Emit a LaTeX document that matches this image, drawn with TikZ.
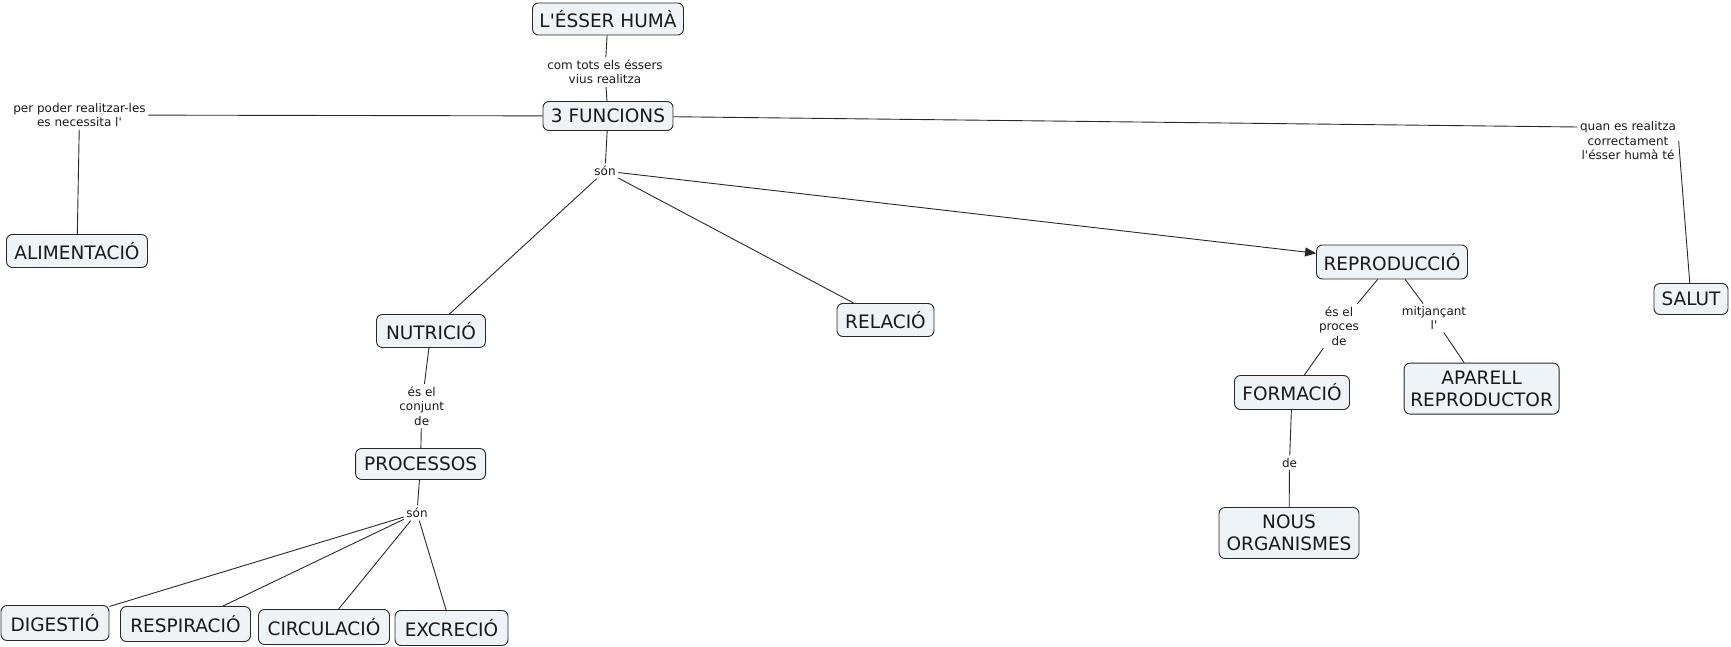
\documentclass[tikz,border=0pt]{standalone}
\usepackage{fontspec}
\setmainfont{DejaVu Sans}[Ligatures=TeXOff]
\usetikzlibrary{arrows.meta}
\definecolor{cfill}{RGB}{237,243,246}
\definecolor{cline}{RGB}{40,40,40}
\definecolor{ctext}{RGB}{25,25,25}
\begin{document}
\begin{tikzpicture}[x=1pt,y=-1pt,
  concept/.style={draw=cline, line width=0.9pt, fill=cfill, rounded corners=6pt, inner sep=0pt, align=center, font=\fontsize{18.5}{22}\selectfont, text=ctext},
  lab/.style={inner sep=2.5pt, align=center, font=\fontsize{12}{14.5}\selectfont, text=ctext},
  conn/.style={draw=cline, line width=0.9pt},
  arr/.style={conn, -{Triangle[length=11pt,width=9pt]}}]
\useasboundingbox (0,0) rectangle (1731,647);
% concepts
\node[concept, minimum width=151pt, minimum height=32pt] (human) at (608,19) {L'ÉSSER HUMÀ};
\node[concept, minimum width=130pt, minimum height=29pt] (f3) at (608,116) {3 FUNCIONS};
\node[concept, minimum width=141pt, minimum height=33pt] (alim) at (77,251) {ALIMENTACIÓ};
\node[concept, minimum width=109pt, minimum height=33pt] (nutr) at (431,331) {NUTRICIÓ};
\node[concept, minimum width=97pt, minimum height=33pt] (rel) at (885.5,320) {RELACIÓ};
\node[concept, minimum width=151pt, minimum height=34pt] (repr) at (1392,262) {REPRODUCCIÓ};
\node[concept, minimum width=74pt, minimum height=31pt] (salut) at (1691,299) {SALUT};
\node[concept, minimum width=130pt, minimum height=31pt] (proc) at (420.6,464) {PROCESSOS};
\node[concept, minimum width=108pt, minimum height=35pt] (dig) at (55,623) {DIGESTIÓ};
\node[concept, minimum width=130pt, minimum height=35pt] (resp) at (185.5,624) {RESPIRACIÓ};
\node[concept, minimum width=131pt, minimum height=35pt] (circ) at (324,627) {CIRCULACIÓ};
\node[concept, minimum width=113pt, minimum height=35pt] (excr) at (451.5,628) {EXCRECIÓ};
\node[concept, minimum width=115pt, minimum height=34pt] (form) at (1292,392.5) {FORMACIÓ};
\node[concept, minimum width=155pt, minimum height=51pt] (apar) at (1481.6,388.6) {APARELL\\REPRODUCTOR};
\node[concept, minimum width=140pt, minimum height=51pt] (nous) at (1289,533) {NOUS\\ORGANISMES};
% labels
\node[lab] (l1) at (605,72) {com tots els éssers\\vius realitza};
\node[lab] (l2) at (79.5,115) {per poder realitzar-les\\es necessita l'};
\node[lab] (l3) at (605,171) {són};
\node[lab] (l4) at (1628,141) {quan es realitza\\correctament\\l'ésser humà té};
\node[lab] (l5) at (421.7,406) {és el\\conjunt\\de};
\node[lab] (l6) at (417,513) {són};
\node[lab] (l7) at (1339,326) {és el\\proces\\de};
\node[lab] (l8) at (1434,318) {mitjançant\\l'};
\node[lab] (l9) at (1289.5,462.6) {de};
% connectors
\draw[conn] (human) -- (l1);
\draw[conn] (l1) -- (f3);
\draw[conn] (f3) -- (l2);
\draw[conn] (l2) -- (alim);
\draw[conn] (f3) -- (l3);
\draw[conn] (l3) -- (nutr);
\draw[conn] (l3) -- (rel);
\draw[arr] (l3) -- (repr);
\draw[conn] (f3) -- ([yshift=14pt]l4.west);
\draw[conn] (l4.east) -- (salut);
\draw[conn] (nutr) -- (l5);
\draw[conn] (l5) -- (proc);
\draw[conn] (proc) -- (l6);
\draw[conn] (l6) -- (dig);
\draw[conn] (l6) -- (resp);
\draw[conn] (l6) -- (circ);
\draw[conn] (l6) -- (excr);
\draw[conn] (repr) -- (l7);
\draw[conn] (l7) -- (form);
\draw[conn] (repr) -- (l8);
\draw[conn] (l8) -- (apar);
\draw[conn] (form) -- (l9);
\draw[conn] (l9) -- (nous);
\end{tikzpicture}
\end{document}
